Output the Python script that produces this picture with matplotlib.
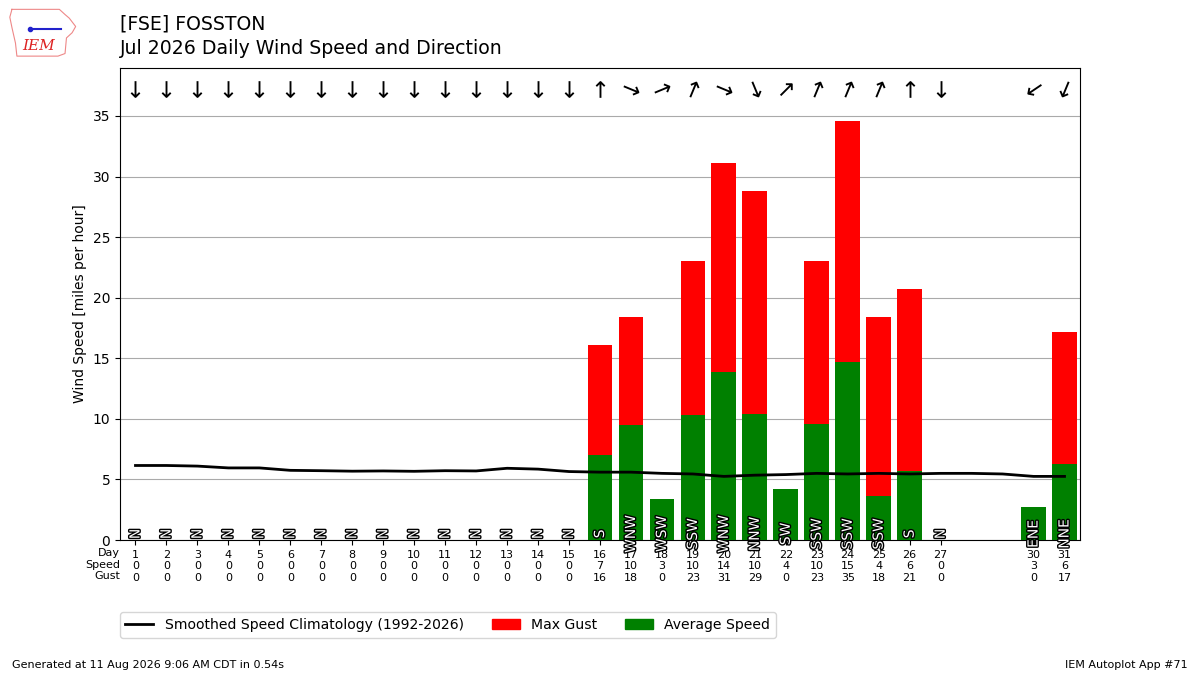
import matplotlib
matplotlib.use("Agg")
import matplotlib.pyplot as plt
import matplotlib.patheffects as pe
from matplotlib.patches import Patch
from matplotlib.lines import Line2D
from matplotlib.markers import MarkerStyle
from matplotlib.transforms import Affine2D

# days with observations (28, 29 missing)
days = list(range(1, 28)) + [30, 31]
avg_speed = [0] * 15 + [7.0, 9.5, 3.4, 10.3, 13.9, 10.4, 4.2, 9.6, 14.7, 3.6, 5.7, 0, 2.7, 6.3]
max_gust = [0] * 15 + [16.1, 18.4, 0, 23.0, 31.1, 28.8, 0, 23.0, 34.6, 18.4, 20.7, 0, 0, 17.2]
speed_lbl = [0] * 15 + [7, 10, 3, 10, 14, 10, 4, 10, 15, 4, 6, 0, 3, 6]
gust_lbl = [0] * 15 + [16, 18, 0, 23, 31, 29, 0, 23, 35, 18, 21, 0, 0, 17]
dir_txt = ["N"] * 15 + ["S", "WNW", "WSW", "SSW", "WNW", "NNW", "SW", "SSW",
                        "SSW", "SSW", "S", "N", "ENE", "NNE"]
dir_deg = [0] * 15 + [180, 292.5, 247.5, 202.5, 292.5, 337.5, 225, 202.5,
                      202.5, 202.5, 180, 0, 56, 22.5]

clim_days = list(range(1, 32))
clim = [6.15, 6.15, 6.1, 5.95, 5.95, 5.75, 5.72, 5.68, 5.7, 5.67, 5.72, 5.7,
        5.92, 5.85, 5.65, 5.6, 5.6, 5.5, 5.45, 5.25, 5.35, 5.4, 5.5, 5.45,
        5.5, 5.45, 5.5, 5.5, 5.45, 5.25, 5.25]

# rough Iowa outline for the logo
iowa_x = [0.05, 0.72, 0.8, 0.86, 0.95, 0.9, 0.82, 0.8, 0.7, 0.12, 0.1, 0.05, 0.02, 0.05]
iowa_y = [0.95, 0.95, 0.85, 0.78, 0.62, 0.5, 0.4, 0.1, 0.05, 0.05, 0.3, 0.6, 0.8, 0.95]

fig = plt.figure(figsize=(12, 6.75), dpi=100)
ax = fig.add_axes([0.1, 0.2, 0.8, 0.7])

ax.bar(days, max_gust, width=0.8, color="r", zorder=2)
ax.bar(days, avg_speed, width=0.8, color="g", zorder=3)
ax.plot(clim_days, clim, color="k", lw=2, zorder=4)

for d, t, deg in zip(days, dir_txt, dir_deg):
    ax.text(d, 0.5, t, rotation=90, ha="center", va="center", color="white",
            fontsize=10, zorder=5,
            path_effects=[pe.withStroke(linewidth=2, foreground="k")])
    m = MarkerStyle("$\u2193$", transform=Affine2D().rotate_deg(-deg))
    ax.plot(d, 37.2, marker=m, ms=12, color="k", mew=0, ls="none")

ax.set_xticks(days)
ax.set_xticklabels(["%s\n%s\n%s" % (d, s, g) for d, s, g in zip(days, speed_lbl, gust_lbl)],
                   fontsize=8)
ax.text(0.0, -0.017, "Day\nSpeed\nGust", transform=ax.transAxes, ha="right",
        va="top", fontsize=8)
ax.set_xlim(0.5, 31.5)
ax.set_ylim(0, 39)
ax.set_yticks([0, 5, 10, 15, 20, 25, 30, 35])
ax.grid(axis="y", color="#aaaaaa", zorder=0)
ax.set_axisbelow(True)
ax.set_ylabel("Wind Speed [miles per hour]")

handles = [Line2D([], [], color="k", lw=2),
           Patch(color="r"), Patch(color="g")]
fig.legend(handles, ["Smoothed Speed Climatology (1992-2026)", "Max Gust", "Average Speed"],
           ncol=3, loc="upper left", bbox_to_anchor=(0.094, 0.103), fontsize=10.1)

fig.text(0.1, 1 - 24 / 675, "[FSE] FOSSTON", fontsize=13.6, va="center", ha="left")
fig.text(0.1, 1 - 48 / 675, "Jul 2026 Daily Wind Speed and Direction",
         fontsize=13.6, va="center", ha="left")

lax = fig.add_axes([0.007, 0.913, 0.059, 0.077])
lax.plot(iowa_x, iowa_y, color="#e88", lw=0.8)
lax.plot([0.3, 0.75], [0.58, 0.58], color="#22c", lw=1.5)
lax.plot([0.3], [0.58], "o", color="#22c", ms=3)
lax.text(0.42, 0.25, "IEM", color="#dd2222", fontsize=11, family="serif",
         style="italic", ha="center", va="center")
lax.set_xlim(0, 1)
lax.set_ylim(0, 1)
lax.axis("off")

fig.text(0.01, 0.01, "Generated at 11 Aug 2026 9:06 AM CDT in 0.54s", fontsize=8)
fig.text(0.99, 0.01, "IEM Autoplot App #71", fontsize=8, ha="right")

fig.savefig("out.png", dpi=100)
